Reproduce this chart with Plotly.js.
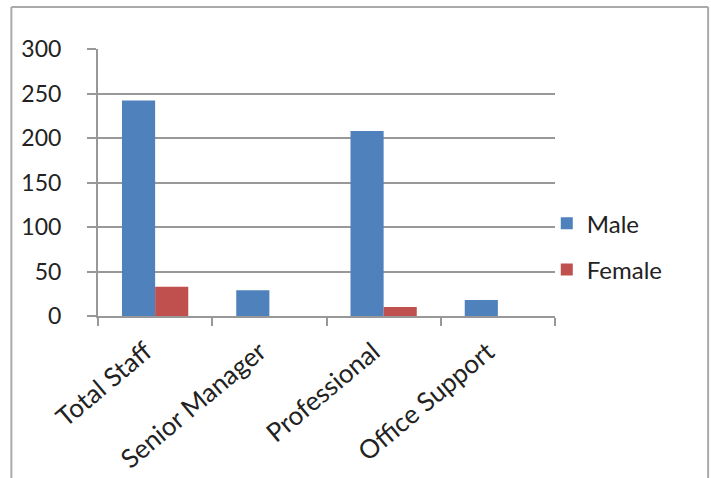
<!DOCTYPE html>
<html>
<head>
<meta charset="utf-8">
<script src="https://cdn.plot.ly/plotly-3.0.1.min.js"></script>
<style>html,body{margin:0;padding:0;background:#fff;}#chart{width:711px;height:478px;}</style>
</head>
<body>
<div id="chart"></div>
<script>
const categories = ["Total Staff", "Senior Manager", "Professional", "Office Support"];
const maleValues = [242, 29, 208, 18];
const femaleValues = [33, 0, 10, 0];
const seriesNames = ["Male", "Female"];
const yTicks = [0, 50, 100, 150, 200, 250, 300];

const font = "Lato, 'Open Sans', 'Liberation Sans', sans-serif";
const data = [
  {type: "bar", name: seriesNames[0], x: categories, y: maleValues, marker: {color: "#4F81BD"}, legendgroup: "a"},
  {type: "bar", name: seriesNames[1], x: categories, y: femaleValues, marker: {color: "#C0504D"}, legendgroup: "b"}
];
const layout = {
  width: 711, height: 478,
  margin: {l: 98, r: 156, t: 49, b: 162},
  paper_bgcolor: "#fff", plot_bgcolor: "#fff",
  font: {family: font, size: 22, color: "#222"},
  barmode: "group", bargap: 0.42, bargroupgap: 0,
  showlegend: true,
  legend: {x: 0.982, xanchor: "left", y: 0.43, yanchor: "top", traceorder: "grouped", tracegroupgap: 12,
           font: {family: font, size: 24, color: "#222"}, bgcolor: "rgba(0,0,0,0)"},
  xaxis: {type: "category", tickangle: -40, showgrid: false, showline: true, linecolor: "#989898", linewidth: 2,
          ticks: "outside", ticklen: 8, tickcolor: "#989898", tickwidth: 2, tickson: "boundaries",
          ticklabelstandoff: 0, ticksuffix: "\u00a0\u00a0",
          tickfont: {family: font, size: 26, color: "#222"}, fixedrange: true},
  yaxis: {range: [0, 300], tickvals: yTicks, showgrid: true, gridcolor: "#989898", gridwidth: 2,
          showline: true, linecolor: "#989898", linewidth: 2, ticks: "outside", ticklen: 9, tickcolor: "#989898", tickwidth: 2,
          zeroline: false, ticklabelstandoff: 21, tickfont: {family: font, size: 23, color: "#222"}},
  shapes: [
    {type: "line", xref: "paper", yref: "paper", x0: -0.1896, x1: -0.1896, y0: -0.62, y1: 1.157, line: {color: "#aaa", width: 2}},
    {type: "line", xref: "paper", yref: "paper", x0: 1.335, x1: 1.335, y0: -0.62, y1: 1.157, line: {color: "#aaa", width: 2}},
    {type: "line", xref: "paper", yref: "paper", x0: -0.1896, x1: 1.335, y0: 1.157, y1: 1.157, line: {color: "#aaa", width: 2}}
  ]
};
Plotly.newPlot("chart", data, layout, {displayModeBar: false, staticPlot: true});
</script>
</body>
</html>
